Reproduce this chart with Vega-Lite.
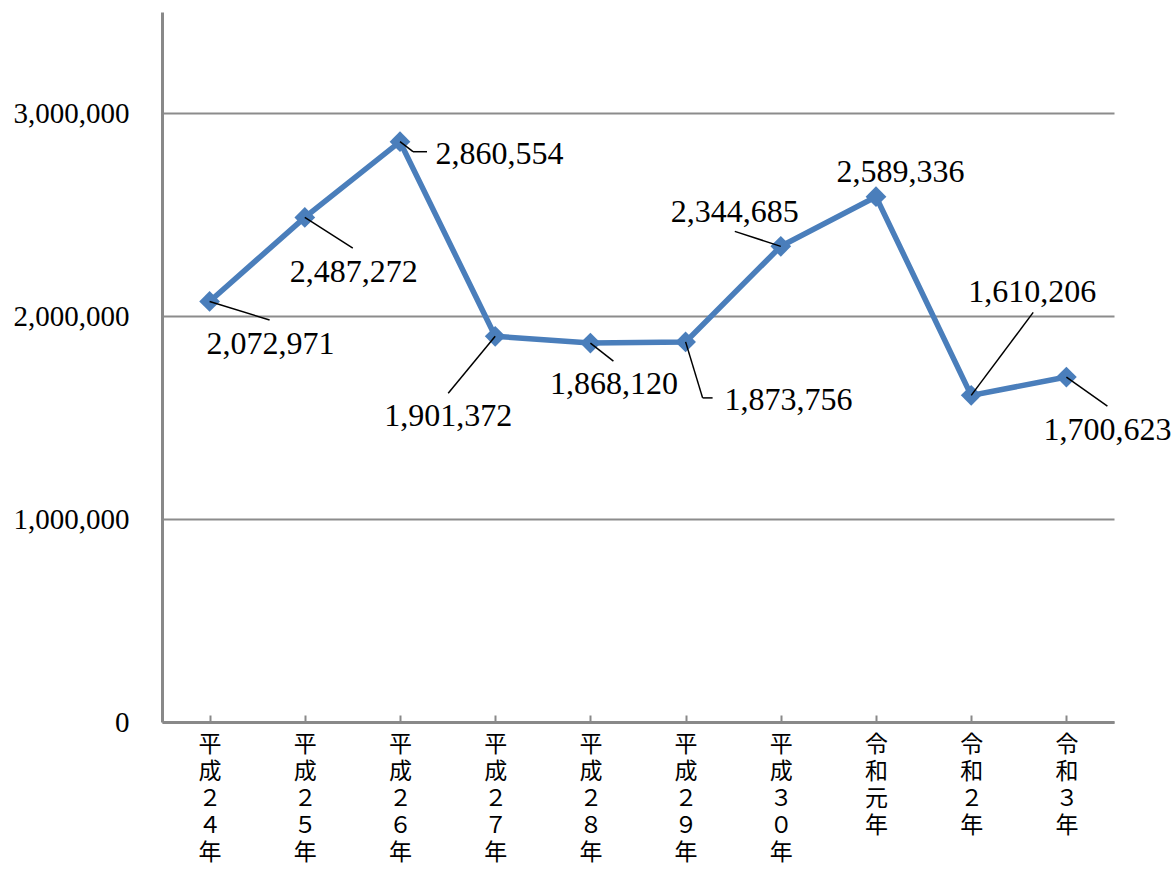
{
  "$schema": "https://vega.github.io/schema/vega-lite/v6.json",
  "width": 952,
  "height": 710,
  "autosize": {"type": "none"},
  "padding": {"left": 162, "top": 12, "right": 61, "bottom": 148},
  "background": "white",
  "config": {"view": {"stroke": null}},
  "data": {
    "values": [
      {"year": "平成２４年", "value": 2072971},
      {"year": "平成２５年", "value": 2487272},
      {"year": "平成２６年", "value": 2860554},
      {"year": "平成２７年", "value": 1901372},
      {"year": "平成２８年", "value": 1868120},
      {"year": "平成２９年", "value": 1873756},
      {"year": "平成３０年", "value": 2344685},
      {"year": "令和元年", "value": 2589336},
      {"year": "令和２年", "value": 1610206},
      {"year": "令和３年", "value": 1700623}
    ]
  },
  "transform": [{"window": [{"op": "row_number", "as": "idx"}]}],
  "encoding": {
    "x": {
      "field": "year",
      "type": "ordinal",
      "sort": null,
      "scale": {"type": "point", "padding": 0.5},
      "axis": {
        "title": null,
        "labelExpr": "split(datum.label, '')",
        "labelAngle": 0,
        "labelAlign": "center",
        "labelBaseline": "top",
        "labelFont": "Noto Sans CJK JP",
        "labelFontSize": 23,
        "labelLineHeight": 27,
        "labelColor": "#000000",
        "labelPadding": 18,
        "tickSize": -7,
        "tickColor": "#898989",
        "tickWidth": 2,
        "domainColor": "#898989",
        "domainWidth": 3,
        "grid": false
      }
    },
    "y": {
      "field": "value",
      "type": "quantitative",
      "scale": {"domain": [0, 3500000], "nice": false},
      "axis": {
        "title": null,
        "values": [0, 1000000, 2000000, 3000000],
        "format": ",d",
        "labelFont": "Liberation Serif",
        "labelFontSize": 29,
        "labelColor": "#000000",
        "labelPadding": 33,
        "ticks": false,
        "domainColor": "#898989",
        "domainWidth": 3,
        "gridColor": "#8c8c8c",
        "gridWidth": 2
      }
    }
  },
  "layer": [
    {
      "mark": {"type": "line", "color": "#4a7ebb", "strokeWidth": 5.5}
    },
    {
      "mark": {"type": "point", "shape": "diamond", "filled": true, "color": "#4a7ebb", "size": 430, "opacity": 1}
    },
    {
      "transform": [{"filter": "datum.idx != 8"}],
      "mark": {
        "type": "rule",
        "color": "#000000",
        "strokeWidth": 1.5,
        "x2Offset": {"expr": "[60,48,13,-47,23,17,-46,0,62,41][datum.idx-1]"},
        "y2Offset": {"expr": "[18.5,30.6,10,57,18,56,-15,0,-83,29][datum.idx-1]"}
      },
      "encoding": {
        "x2": {"field": "year"},
        "y2": {"field": "value"}
      }
    },
    {
      "transform": [{"filter": "datum.idx == 3 || datum.idx == 6"}],
      "mark": {
        "type": "rule",
        "color": "#000000",
        "strokeWidth": 1.5,
        "xOffset": {"expr": "datum.idx == 3 ? 13 : 17"},
        "yOffset": {"expr": "datum.idx == 3 ? 10 : 56"},
        "x2Offset": {"expr": "27"},
        "y2Offset": {"expr": "datum.idx == 3 ? 10 : 56"}
      },
      "encoding": {
        "x2": {"field": "year"},
        "y2": {"field": "value"}
      }
    },
    {
      "mark": {
        "type": "text",
        "font": "Liberation Serif",
        "fontSize": 32,
        "color": "#000000",
        "align": "center",
        "baseline": "alphabetic",
        "dx": {"expr": "[61,49,99.5,-47,23.6,103,-46,24.5,61,41][datum.idx-1]"},
        "dy": {"expr": "[52.5,64.6,22.3,89.7,51,68,-24.4,-14.7,-93.4,63][datum.idx-1]"}
      },
      "encoding": {
        "text": {"field": "value", "type": "quantitative", "format": ","}
      }
    }
  ]
}
